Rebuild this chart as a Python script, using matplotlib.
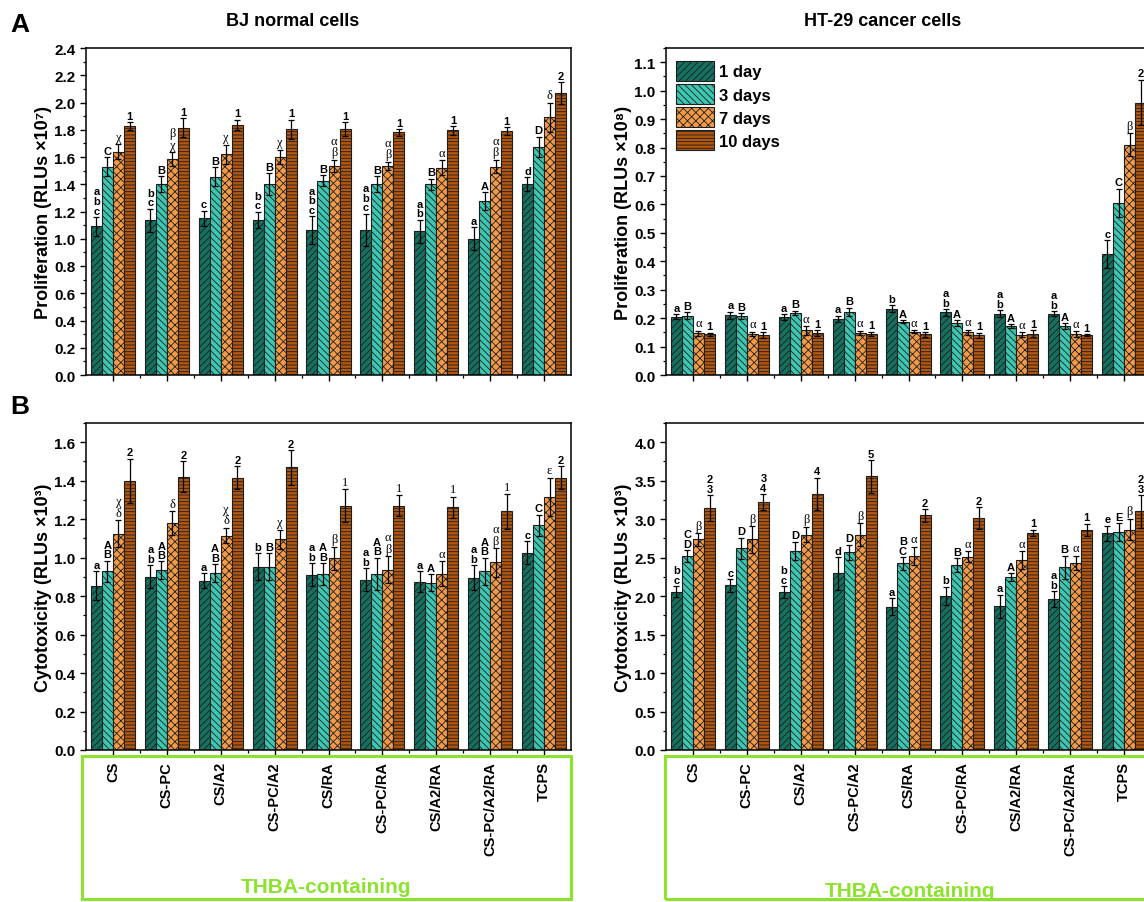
import numpy as np
import matplotlib.pyplot as plt
from matplotlib.ticker import MultipleLocator, FixedLocator, FormatStrFormatter
from matplotlib.patches import Rectangle

plt.rcParams['font.family'] = ['Liberation Sans', 'DejaVu Sans']
plt.rcParams['hatch.linewidth'] = 0.6

groups = ["CS", "CS-PC", "CS/A2", "CS-PC/A2", "CS/RA", "CS-PC/RA",
          "CS/A2/RA", "CS-PC/A2/RA", "TCPS"]
days = ["1 day", "3 days", "7 days", "10 days"]

# BJ normal cells, proliferation (RLUs x10^7)
bj_prol_1d = [1.09, 1.135, 1.15, 1.14, 1.065, 1.065, 1.055, 1.00, 1.40]
bj_prol_3d = [1.53, 1.40, 1.455, 1.40, 1.425, 1.40, 1.40, 1.275, 1.675]
bj_prol_7d = [1.64, 1.585, 1.62, 1.60, 1.535, 1.535, 1.52, 1.53, 1.89]
bj_prol_10d = [1.825, 1.815, 1.835, 1.805, 1.805, 1.78, 1.795, 1.79, 2.07]
bj_prol_err_1d = [0.07, 0.085, 0.055, 0.06, 0.10, 0.12, 0.085, 0.085, 0.05]
bj_prol_err_3d = [0.07, 0.06, 0.07, 0.08, 0.04, 0.06, 0.04, 0.065, 0.075]
bj_prol_err_7d = [0.055, 0.05, 0.07, 0.055, 0.045, 0.03, 0.055, 0.05, 0.11]
bj_prol_err_10d = [0.03, 0.07, 0.04, 0.07, 0.05, 0.025, 0.03, 0.03, 0.08]
bj_prol_lab_1d = ["a\nb\nc", "b\nc", "c", "b\nc", "a\nb\nc", "a\nb\nc", "a\nb", "a", "d"]
bj_prol_lab_3d = ["C", "B", "B", "B", "B", "B", "B", "A", "D"]
bj_prol_lab_7d = ["χ", "β\nχ", "χ", "χ", "α\nβ", "α\nβ", "α", "α\nβ", "δ"]
bj_prol_lab_10d = ["1", "1", "1", "1", "1", "1", "1", "1", "2"]

# HT-29 cancer cells, proliferation (RLUs x10^8)
ht_prol_1d = [0.205, 0.21, 0.203, 0.198, 0.233, 0.22, 0.216, 0.216, 0.425]
ht_prol_3d = [0.208, 0.207, 0.218, 0.222, 0.188, 0.182, 0.173, 0.172, 0.605]
ht_prol_7d = [0.146, 0.145, 0.157, 0.148, 0.152, 0.15, 0.142, 0.145, 0.81]
ht_prol_10d = [0.143, 0.14, 0.147, 0.145, 0.143, 0.139, 0.145, 0.14, 0.958]
ht_prol_err_1d = [0.008, 0.013, 0.01, 0.01, 0.013, 0.012, 0.012, 0.008, 0.05]
ht_prol_err_3d = [0.012, 0.01, 0.008, 0.015, 0.005, 0.01, 0.006, 0.01, 0.05]
ht_prol_err_7d = [0.01, 0.007, 0.015, 0.008, 0.005, 0.01, 0.008, 0.01, 0.04]
ht_prol_err_10d = [0.006, 0.01, 0.01, 0.007, 0.008, 0.01, 0.013, 0.003, 0.08]
ht_prol_lab_1d = ["a", "a", "a", "a", "b", "a\nb", "a\nb", "a\nb", "c"]
ht_prol_lab_3d = ["B", "B", "B", "B", "A", "A", "A", "A", "C"]
ht_prol_lab_7d = ["α", "α", "α", "α", "α", "α", "α", "α", "β"]
ht_prol_lab_10d = ["1", "1", "1", "1", "1", "1", "1", "1", "2"]

# BJ normal cells, cytotoxicity (RLUs x10^3)
bj_cyto_1d = [0.855, 0.90, 0.88, 0.952, 0.912, 0.885, 0.875, 0.895, 1.025]
bj_cyto_3d = [0.93, 0.935, 0.92, 0.952, 0.915, 0.915, 0.87, 0.93, 1.168]
bj_cyto_7d = [1.125, 1.18, 1.115, 1.095, 0.997, 0.937, 0.917, 0.975, 1.315]
bj_cyto_10d = [1.40, 1.42, 1.415, 1.47, 1.27, 1.27, 1.262, 1.24, 1.415]
bj_cyto_err_1d = [0.075, 0.06, 0.04, 0.07, 0.06, 0.06, 0.055, 0.065, 0.06]
bj_cyto_err_3d = [0.055, 0.045, 0.045, 0.07, 0.055, 0.085, 0.045, 0.07, 0.055]
bj_cyto_err_7d = [0.07, 0.06, 0.04, 0.05, 0.06, 0.07, 0.065, 0.075, 0.10]
bj_cyto_err_10d = [0.115, 0.08, 0.06, 0.09, 0.085, 0.055, 0.055, 0.09, 0.06]
bj_cyto_lab_1d = ["a", "a\nb", "a", "b", "a\nb", "a\nb", "a", "a\nb", "c"]
bj_cyto_lab_3d = ["A\nB", "A\nB", "A\nB", "B", "A\nB", "A\nB", "A", "A\nB", "C"]
bj_cyto_lab_7d = ["χ\nδ", "δ", "χ\nδ", "χ", "β", "α\nβ", "α", "α\nβ", "ε"]
bj_cyto_lab_10d = ["2", "2", "2", "2", "1", "1", "1", "1", "2"]
bj_cyto_serif_10d = [False, False, False, False, True, True, True, True, False]

# HT-29 cancer cells, cytotoxicity (RLUs x10^3)
ht_cyto_1d = [2.056, 2.14, 2.05, 2.295, 1.86, 2.0, 1.87, 1.965, 2.814]
ht_cyto_3d = [2.52, 2.62, 2.585, 2.57, 2.425, 2.40, 2.25, 2.377, 2.83]
ht_cyto_7d = [2.736, 2.736, 2.80, 2.80, 2.52, 2.51, 2.467, 2.433, 2.865]
ht_cyto_10d = [3.143, 3.225, 3.33, 3.555, 3.048, 3.017, 2.822, 2.86, 3.10]
ht_cyto_err_1d = [0.07, 0.08, 0.08, 0.21, 0.11, 0.12, 0.15, 0.10, 0.10]
ht_cyto_err_3d = [0.08, 0.14, 0.12, 0.10, 0.08, 0.09, 0.05, 0.15, 0.12]
ht_cyto_err_7d = [0.08, 0.17, 0.10, 0.15, 0.12, 0.07, 0.12, 0.09, 0.14]
ht_cyto_err_10d = [0.17, 0.10, 0.21, 0.21, 0.08, 0.14, 0.04, 0.08, 0.21]
ht_cyto_lab_1d = ["b\nc", "c", "b\nc", "d", "a", "b", "a", "a\nb", "e"]
ht_cyto_lab_3d = ["C\nD", "D", "D", "D", "B\nC", "B", "A", "B", "E"]
ht_cyto_lab_7d = ["β", "β", "β", "β", "α", "α", "α", "α", "β"]
ht_cyto_lab_10d = ["2\n3", "3\n4", "4", "5", "2", "2", "1", "1", "2\n3"]

colors = ['#15705f', '#3dc6b2', '#f39a48', '#b1560f']
hatches = ['/////', '\\\\\\\\\\', 'xxxx', '-----']
edge = '#1e1e1e'
green = '#8ce22c'
bw = 0.205

fig = plt.figure(figsize=(11.44, 9.03), dpi=100)
W, H = 1144.0, 903.0


def px_axes(left, top, right, bottom):
    return fig.add_axes([left / W, 1 - bottom / H, (right - left) / W, (bottom - top) / H])


def is_greek(s):
    return any('\u0370' <= c <= '\u03ff' for c in s)


def draw(ax, vals, errs, labs, ylim, major, minor, ylabel, serif=None):
    x = np.arange(len(groups))
    for k in range(4):
        xs = x + (k - 1.5) * bw
        ax.bar(xs, vals[k], bw, color=colors[k], edgecolor=edge, hatch=hatches[k],
               linewidth=0.8, label=days[k], zorder=2)
        ax.errorbar(xs, vals[k], yerr=errs[k], fmt='none', ecolor='black',
                    elinewidth=0.9, capsize=2.5, capthick=0.9, zorder=3)
        for i in range(len(groups)):
            s = labs[k][i]
            use_serif = is_greek(s) or (serif is not None and k == 3 and serif[i])
            if use_serif:
                kw = dict(family=['Liberation Serif', 'DejaVu Serif'], fontsize=9)
            else:
                kw = dict(fontweight='bold', fontsize=8)
            ax.annotate(s, (xs[i], vals[k][i] + errs[k][i]), xytext=(0, 1),
                        textcoords='offset points', ha='center', va='bottom',
                        linespacing=0.95, **kw)
    ax.set_xlim(-0.5, 8.5)
    ax.set_ylim(*ylim)
    ax.yaxis.set_major_locator(MultipleLocator(major))
    ax.yaxis.set_minor_locator(MultipleLocator(minor))
    ax.yaxis.set_major_formatter(FormatStrFormatter('%.1f'))
    ax.set_xticks(x)
    ax.xaxis.set_minor_locator(FixedLocator(np.arange(0.5, 8, 1)))
    ax.tick_params(axis='both', which='major', direction='out', length=4, width=1,
                   labelsize=11)
    ax.tick_params(axis='both', which='minor', direction='out', length=2.5, width=0.9)
    for t in ax.get_yticklabels():
        t.set_fontweight('bold')
    ax.set_ylabel(ylabel, fontsize=13, fontweight='bold', labelpad=2)
    for sp in ax.spines.values():
        sp.set_linewidth(1.1)


ax1 = px_axes(86, 49, 571, 376)
ax2 = px_axes(666, 49, 1151, 376)
ax3 = px_axes(86, 424, 571, 751)
ax4 = px_axes(666, 424, 1151, 751)

draw(ax1, [bj_prol_1d, bj_prol_3d, bj_prol_7d, bj_prol_10d],
     [bj_prol_err_1d, bj_prol_err_3d, bj_prol_err_7d, bj_prol_err_10d],
     [bj_prol_lab_1d, bj_prol_lab_3d, bj_prol_lab_7d, bj_prol_lab_10d],
     (0, 2.4), 0.2, 0.1, "Proliferation (RLUs ×10⁷)")
draw(ax2, [ht_prol_1d, ht_prol_3d, ht_prol_7d, ht_prol_10d],
     [ht_prol_err_1d, ht_prol_err_3d, ht_prol_err_7d, ht_prol_err_10d],
     [ht_prol_lab_1d, ht_prol_lab_3d, ht_prol_lab_7d, ht_prol_lab_10d],
     (0, 1.15), 0.1, 0.05, "Proliferation (RLUs ×10⁸)")
draw(ax3, [bj_cyto_1d, bj_cyto_3d, bj_cyto_7d, bj_cyto_10d],
     [bj_cyto_err_1d, bj_cyto_err_3d, bj_cyto_err_7d, bj_cyto_err_10d],
     [bj_cyto_lab_1d, bj_cyto_lab_3d, bj_cyto_lab_7d, bj_cyto_lab_10d],
     (0, 1.70), 0.2, 0.1, "Cytotoxicity (RLUs ×10³)", serif=bj_cyto_serif_10d)
draw(ax4, [ht_cyto_1d, ht_cyto_3d, ht_cyto_7d, ht_cyto_10d],
     [ht_cyto_err_1d, ht_cyto_err_3d, ht_cyto_err_7d, ht_cyto_err_10d],
     [ht_cyto_lab_1d, ht_cyto_lab_3d, ht_cyto_lab_7d, ht_cyto_lab_10d],
     (0, 4.25), 0.5, 0.25, "Cytotoxicity (RLUs ×10³)")

for ax in (ax1, ax2):
    ax.set_xticklabels([])
for ax in (ax3, ax4):
    ax.set_xticklabels(groups, rotation=90, fontweight='bold', fontsize=10.5)
    ax.tick_params(axis='x', which='major', pad=4)

leg = ax2.legend(loc='upper left', bbox_to_anchor=(0.02, 0.96), frameon=False,
                 borderpad=0, borderaxespad=0, handlelength=2.3, handleheight=1.45,
                 handletextpad=0.3, labelspacing=0.2,
                 prop={'weight': 'bold', 'size': 12})

# green boxes under the bottom panels
fig.add_artist(Rectangle((82 / W, 1 - 900 / H), (571 - 82) / W, (900 - 757) / H,
                         transform=fig.transFigure, fill=False, edgecolor=green, lw=2.2))
fig.add_artist(Rectangle((665 / W, 1 - 900 / H), 0.5, (900 - 757) / H,
                         transform=fig.transFigure, fill=False, edgecolor=green, lw=2.2))
for cx, cy in ((326, 888), (910, 892)):
    fig.text(cx / W, 1 - cy / H, "THBA-containing", ha='center', va='center',
             color=green, fontsize=15, fontweight='bold',
             family=['Liberation Sans Narrow', 'Liberation Sans'])

fig.text(293 / W, 1 - 22 / H, "BJ normal cells", ha='center', va='center',
         fontsize=13, fontweight='bold')
fig.text(883 / W, 1 - 22 / H, "HT-29 cancer cells", ha='center', va='center',
         fontsize=13, fontweight='bold')
fig.text(10 / W, 1 - 25 / H, "A", ha='left', va='center', fontsize=19, fontweight='bold')
fig.text(10 / W, 1 - 407 / H, "B", ha='left', va='center', fontsize=19, fontweight='bold')

fig.savefig('out.png', dpi=100)
